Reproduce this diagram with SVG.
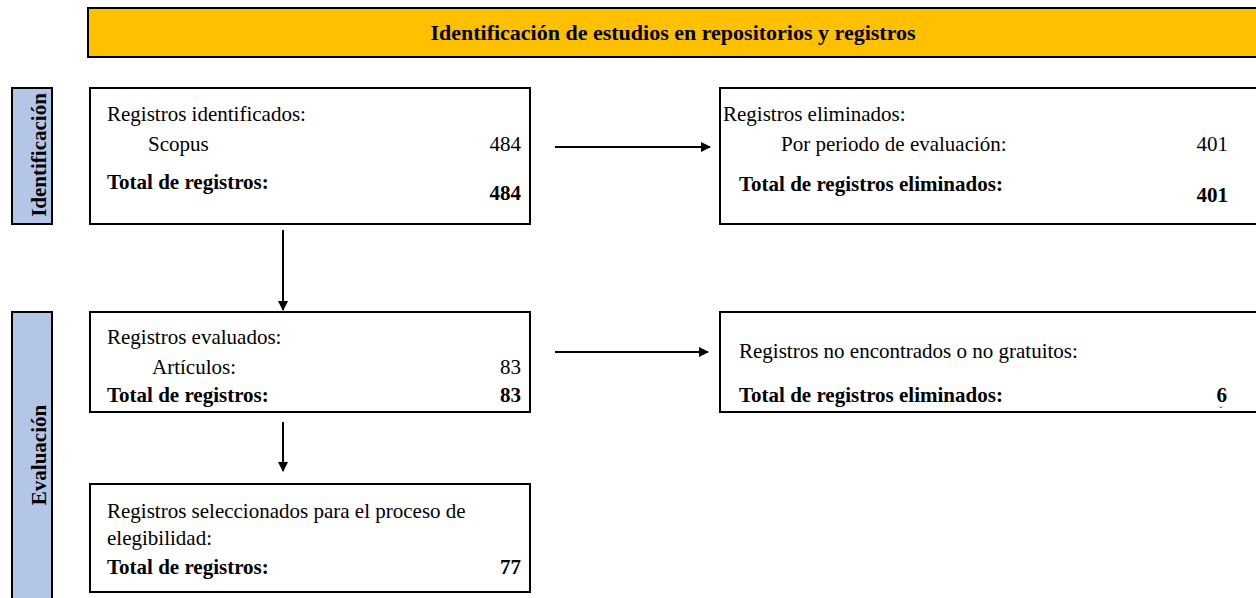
<svg xmlns="http://www.w3.org/2000/svg" width="1256" height="598" viewBox="0 0 1256 598">
<defs>
<marker id="ah" viewBox="0 0 10 10" refX="9" refY="5" markerWidth="5" markerHeight="5" orient="auto" markerUnits="strokeWidth"><path d="M0,0 L10,5 L0,10 z" fill="#000"/></marker>
</defs>
<style>
text{font-family:"Liberation Serif","Times New Roman",serif;font-size:21px;fill:#000}
.b{font-weight:bold}
.r{text-anchor:end}
.h{font-size:22px}
.box{fill:#fff;stroke:#000;stroke-width:2}
.side{fill:#B4C6E7;stroke:#000;stroke-width:2}
.conn{stroke:#000;stroke-width:2;fill:none;marker-end:url(#ah)}
</style>
<rect width="1256" height="598" fill="#fff"/>
<g id="header">
<rect x="88" y="8" width="1170" height="49" fill="#FFC000" stroke="#000" stroke-width="2"/>
<text x="673" y="40" class="b h" text-anchor="middle">Identificación de estudios en repositorios y registros</text>
</g>
<g id="lbl-identificacion">
<rect x="12" y="88" width="40" height="136" class="side"/>
<text transform="translate(46,155) rotate(-90)" class="b" text-anchor="middle">Identificación</text>
</g>
<g id="lbl-evaluacion">
<rect x="12" y="312" width="40" height="290" class="side"/>
<text transform="translate(46,455) rotate(-90)" class="b" text-anchor="middle">Evaluación</text>
</g>
<g id="n-identificados">
<rect x="90" y="88" width="440" height="136" class="box"/>
<text x="107" y="121">Registros identificados:</text>
<text x="148" y="151">Scopus</text>
<text x="521" y="151" class="r">484</text>
<text x="107" y="189" class="b">Total de registros:</text>
<text x="521" y="200" class="b r">484</text>
</g>
<g id="n-eliminados">
<rect x="720" y="88" width="540" height="136" class="box"/>
<text x="723" y="121">Registros eliminados:</text>
<text x="781" y="151">Por periodo de evaluación:</text>
<text x="1228" y="151" class="r">401</text>
<text x="739" y="191" class="b">Total de registros eliminados:</text>
<text x="1228" y="202" class="b r">401</text>
</g>
<g id="n-evaluados">
<rect x="90" y="312" width="440" height="100" class="box"/>
<text x="107" y="344">Registros evaluados:</text>
<text x="152" y="374">Artículos:</text>
<text x="521" y="374" class="r">83</text>
<text x="107" y="402" class="b">Total de registros:</text>
<text x="521" y="402" class="b r">83</text>
</g>
<g id="n-noencontrados">
<rect x="720" y="312" width="540" height="100" class="box"/>
<text x="739" y="358">Registros no encontrados o no gratuitos:</text>
<text x="739" y="402" class="b">Total de registros eliminados:</text>
<text x="1227" y="402" class="b r">6</text>
<text x="1221" y="414" text-anchor="middle" style="font-size:10px">˘</text>
</g>
<g id="n-seleccionados">
<rect x="90" y="484" width="440" height="108" class="box"/>
<text x="107" y="518">Registros seleccionados para el proceso de</text>
<text x="107" y="545">elegibilidad:</text>
<text x="107" y="574" class="b">Total de registros:</text>
<text x="521" y="574" class="b r">77</text>
</g>
<g id="connectors">
<line x1="555" y1="147" x2="710" y2="147" class="conn"/>
<line x1="283" y1="230" x2="283" y2="310" class="conn"/>
<line x1="555" y1="352" x2="708" y2="352" class="conn"/>
<line x1="283" y1="422" x2="283" y2="471" class="conn"/>
</g>
</svg>
